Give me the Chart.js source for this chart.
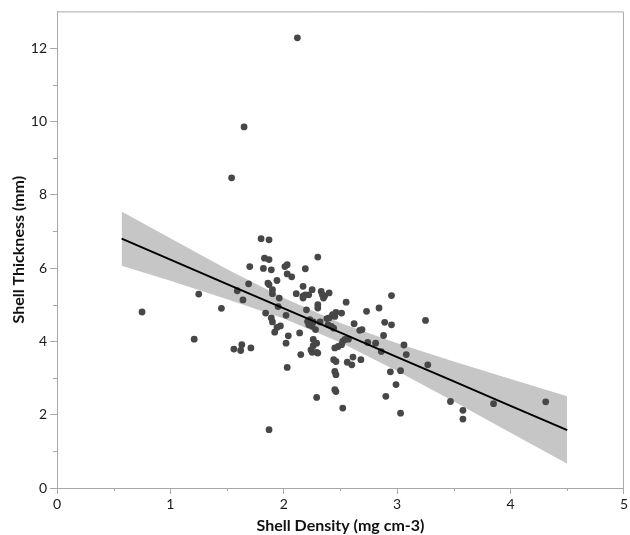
<!DOCTYPE html>
<html>
<head>
<meta charset="utf-8">
<title>Shell thickness vs density</title>
<script src="https://cdn.jsdelivr.net/npm/chart.js@4/dist/chart.umd.min.js"></script>
<style>
  html, body { margin: 0; padding: 0; background: #fff; }
  #wrap { width: 630px; height: 535px; }
</style>
</head>
<body>
<div id="wrap"><canvas id="shellChart" width="630" height="535"></canvas></div>
<script>
// measured shells: density (mg cm-3) and thickness (mm)
const densityVals = [
  2.12, 1.65, 1.54, 0.75, 1.21, 1.25, 1.45, 1.87, 1.56, 1.62,
  1.63, 1.71, 1.59, 1.64, 1.69, 1.70, 1.80, 1.87, 1.83, 1.87,
  1.82, 1.89, 2.01, 2.03, 2.03, 2.07, 2.19, 2.30, 1.94, 1.86,
  1.87, 2.17, 2.25, 1.90, 1.90, 2.11, 2.17, 2.22, 2.33, 2.36,
  2.40, 1.96, 1.95, 2.30, 2.30, 2.46, 2.45, 2.20, 1.84, 2.02,
  1.89, 1.90, 1.94, 1.97, 1.92, 2.23, 2.26, 2.32, 2.38, 2.04,
  2.02, 2.14, 2.03, 2.15, 2.22, 2.25, 2.26, 2.29, 2.26, 2.24,
  2.30, 2.45, 2.44, 2.46, 2.45, 2.46, 2.45, 2.46, 2.29, 2.39,
  2.42, 2.55, 2.95, 2.51, 2.73, 2.84, 3.25, 2.62, 2.89, 2.95,
  2.67, 2.69, 2.88, 2.81, 2.74, 3.06, 3.08, 3.27, 2.57, 2.52,
  2.51, 2.61, 2.60, 2.56, 2.68, 2.94, 3.03, 2.99, 2.90, 2.52,
  3.03, 3.47, 3.58, 3.58, 3.85, 4.31, 2.86, 2.35, 2.40, 2.43,
  2.44, 2.19, 2.17, 2.34, 2.28, 2.54, 2.48, 2.25, 2.29, 2.21
];
const thicknessVals = [
  12.28, 9.85, 8.46, 4.80, 4.06, 5.29, 4.90, 1.59, 3.79, 3.75,
  3.91, 3.82, 5.38, 5.13, 5.57, 6.04, 6.80, 6.77, 6.27, 6.23,
  5.99, 5.95, 6.04, 6.09, 5.84, 5.76, 5.98, 6.30, 5.66, 5.59,
  5.55, 5.50, 5.41, 5.41, 5.30, 5.30, 5.23, 5.27, 5.36, 5.24,
  5.32, 5.18, 4.95, 5.00, 4.91, 4.79, 4.68, 4.86, 4.77, 4.71,
  4.64, 4.53, 4.38, 4.42, 4.25, 4.59, 4.53, 4.53, 4.62, 4.15,
  3.95, 4.23, 3.29, 3.64, 4.45, 4.41, 4.05, 3.95, 3.88, 3.77,
  3.68, 3.82, 3.50, 3.45, 3.18, 3.09, 2.68, 2.63, 2.47, 4.45,
  4.41, 5.07, 5.25, 4.77, 4.82, 4.91, 4.57, 4.48, 4.52, 4.45,
  4.30, 4.32, 4.16, 3.95, 3.97, 3.90, 3.64, 3.36, 4.06, 4.00,
  3.91, 3.57, 3.36, 3.43, 3.50, 3.17, 3.20, 2.82, 2.50, 2.18,
  2.04, 2.36, 2.12, 1.88, 2.30, 2.35, 3.72, 5.18, 4.64, 4.73,
  4.36, 5.27, 5.18, 5.27, 4.32, 4.05, 3.86, 3.70, 3.70, 4.54
];

// fitted line with its 95% confidence band
const fitX     = [0.57, 1.0, 1.5, 2.0, 2.5, 3.0, 3.5, 4.0, 4.5];
const fitY     = [6.80, 6.23, 5.56, 4.90, 4.24, 3.57, 2.91, 2.24, 1.58];
const bandHigh = [7.54, 6.81, 5.97, 5.18, 4.50, 3.95, 3.45, 2.97, 2.50];
const bandLow  = [6.06, 5.65, 5.15, 4.62, 3.97, 3.19, 2.36, 1.51, 0.66];

const xTicks = [0, 1, 2, 3, 4, 5];
const yTicks = [0, 2, 4, 6, 8, 10, 12];

const AXIS_GREY = '#a8a8a8';

const toXY = (xs, ys) => xs.map((x, i) => ({ x: x, y: ys[i] }));

// frame on top/right plus short minor ticks
const framePlugin = {
  id: 'frame',
  beforeDatasetsDraw(chart) {
    const { ctx, chartArea: a, scales } = chart;
    ctx.save();
    ctx.strokeStyle = AXIS_GREY;
    ctx.lineWidth = 1;
    ctx.beginPath();
    ctx.moveTo(a.left, a.top + 0.5);
    ctx.lineTo(a.right - 0.5, a.top + 0.5);
    ctx.lineTo(a.right - 0.5, a.bottom);
    ctx.stroke();

    ctx.beginPath();
    scales.x.ticks.forEach(t => {
      if (xTicks.includes(t.value)) return;
      const px = Math.round(scales.x.getPixelForValue(t.value)) + 0.5;
      ctx.moveTo(px, a.bottom);
      ctx.lineTo(px, a.bottom + 3);
    });
    scales.y.ticks.forEach(t => {
      if (yTicks.includes(t.value) || t.value >= 13) return;
      const py = Math.round(scales.y.getPixelForValue(t.value)) + 0.5;
      ctx.moveTo(a.left, py);
      ctx.lineTo(a.left - 4, py);
    });
    ctx.stroke();
    ctx.restore();
  }
};

new Chart(document.getElementById('shellChart'), {
  type: 'scatter',
  data: {
    datasets: [
      {
        label: 'upper',
        type: 'line',
        data: toXY(fitX, bandHigh),
        borderWidth: 0,
        pointRadius: 0,
        fill: '+1',
        backgroundColor: '#c6c6c6',
        order: 3
      },
      {
        label: 'lower',
        type: 'line',
        data: toXY(fitX, bandLow),
        borderWidth: 0,
        pointRadius: 0,
        fill: false,
        order: 3
      },
      {
        label: 'shells',
        data: toXY(densityVals, thicknessVals),
        pointRadius: 3.4,
        pointBackgroundColor: '#474747',
        pointBorderWidth: 0,
        order: 2
      },
      {
        label: 'fit',
        type: 'line',
        data: toXY(fitX, fitY),
        borderColor: '#000',
        borderWidth: 2,
        pointRadius: 0,
        fill: false,
        order: 1
      }
    ]
  },
  options: {
    responsive: false,
    animation: false,
    events: [],
    layout: { padding: { top: 11, right: 2, left: 0, bottom: 0 } },
    plugins: {
      legend: { display: false },
      tooltip: { enabled: false }
    },
    scales: {
      x: {
        type: 'linear',
        min: 0,
        max: 5,
        afterFit(scale) { scale.height = 47; },
        border: { color: AXIS_GREY, width: 1 },
        grid: {
          drawOnChartArea: false,
          tickLength: 6,
          tickColor: ctx => xTicks.includes(ctx.tick && ctx.tick.value) ? AXIS_GREY : 'rgba(0,0,0,0)'
        },
        ticks: {
          stepSize: 0.5,
          autoSkip: false,
          maxRotation: 0,
          padding: 2,
          color: '#1a1a1a',
          font: { family: 'Lato', size: 14 },
          callback: v => xTicks.includes(v) ? String(v) : ''
        },
        title: {
          display: true,
          text: 'Shell Density (mg cm-3)',
          color: '#111',
          font: { family: 'Lato', size: 16, weight: 'bold' },
          padding: { top: 1, bottom: 0 }
        }
      },
      y: {
        type: 'linear',
        min: 0,
        max: 13,
        afterFit(scale) { scale.width = 57; },
        border: { color: AXIS_GREY, width: 1 },
        grid: {
          drawOnChartArea: false,
          tickLength: 7,
          tickColor: ctx => yTicks.includes(ctx.tick && ctx.tick.value) ? AXIS_GREY : 'rgba(0,0,0,0)'
        },
        ticks: {
          stepSize: 1,
          autoSkip: false,
          padding: 3,
          color: '#1a1a1a',
          font: { family: 'Lato', size: 14 },
          callback: v => yTicks.includes(v) ? String(v) : ''
        },
        title: {
          display: true,
          text: 'Shell Thickness (mm)',
          color: '#111',
          font: { family: 'Lato', size: 16, weight: 'bold' },
          padding: { top: 9, bottom: 2 }
        }
      }
    }
  },
  plugins: [framePlugin]
});
</script>
</body>
</html>
